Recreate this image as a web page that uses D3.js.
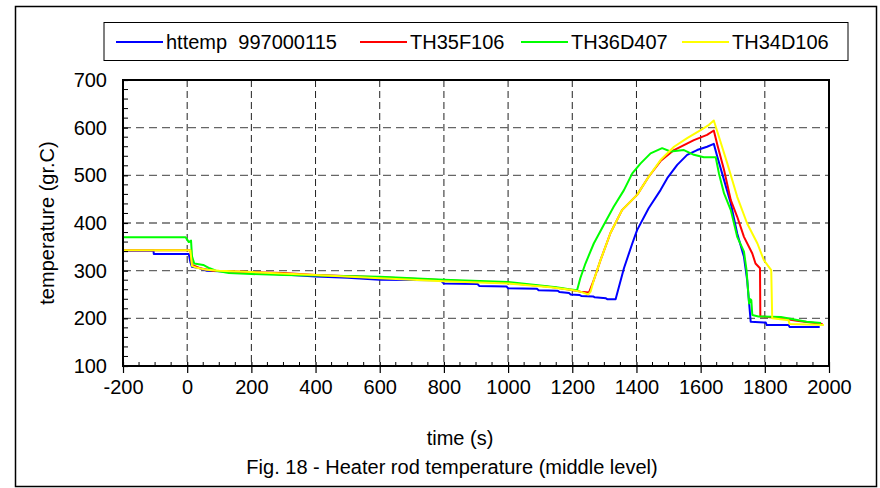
<!DOCTYPE html>
<html><head><meta charset="utf-8">
<script src="https://cdn.jsdelivr.net/npm/d3@7"></script>
<style>body{margin:0;background:#fff}svg{display:block}text{font-family:"Liberation Sans",Arial,sans-serif}</style>
</head><body><svg id="c" width="880" height="488"></svg>
<script>
const seriesNames = ["httemp  997000115", "TH35F106", "TH36D407", "TH34D106"];
const seriesColors = ["#0000ff", "#ff0000", "#00ff00", "#ffff00"];
const xTicks = [-200,0,200,400,600,800,1000,1200,1400,1600,1800,2000];
const yTicks = [100,200,300,400,500,600,700];

const blue = [[-200,342],[-105,342],[-104,335],[5,335],[10,318],[15,308],[40,305],[60,300],[100,299],[200,296],[300,292],[400,288],[500,285],[600,281],[790,280],[800,273],[905,272],[910,268],[995,267],[1000,263],[1090,262],[1095,259],[1155,258],[1160,255],[1190,253],[1195,250],[1222,249],[1228,247],[1265,246],[1270,244],[1305,242],[1310,240],[1335,240],[1361,305],[1387,357],[1402,385],[1438,431],[1475,469],[1496,494],[1527,522],[1558,543],[1589,553],[1620,560],[1641,566],[1652,539],[1673,490],[1694,441],[1714,378],[1735,329],[1745,280],[1756,193],[1803,191],[1806,186],[1874,186],[1877,182],[1971,182]];
const red = [[-200,343],[10,343],[15,312],[40,305],[80,300],[200,297],[300,295],[400,291],[600,286],[800,280],[1000,274],[1130,266],[1194,260],[1225,256],[1252,254],[1267,280],[1288,322],[1319,379],[1355,427],[1402,459],[1438,497],[1475,530],[1517,553],[1579,574],[1620,585],[1641,594],[1652,564],[1673,511],[1694,448],[1714,413],[1735,371],[1761,336],[1771,315],[1785,305],[1786,204],[1850,200],[1900,195],[1980,188]];
const green = [[-200,370],[-5,370],[0,365],[5,360],[12,363],[15,330],[22,315],[50,312],[70,305],[90,300],[130,295],[200,293],[300,291],[400,290],[600,287],[800,281],[1000,276],[1150,265],[1190,261],[1215,259],[1225,284],[1241,315],[1267,357],[1298,396],[1329,434],[1361,469],[1387,504],[1413,525],[1444,546],[1480,557],[1506,550],[1548,553],[1579,543],[1610,538],[1647,538],[1657,504],[1673,462],[1694,427],[1714,371],[1735,340],[1743,301],[1751,231],[1755,240],[1758,238],[1761,207],[1780,204],[1850,203],[1930,193],[1975,190]];
const yellow = [[-200,343],[10,343],[15,310],[30,306],[60,302],[100,300],[200,297],[400,291],[602,284],[798,278],[1000,273],[1132,265],[1194,260],[1225,256],[1250,250],[1257,256],[1267,280],[1288,322],[1319,379],[1355,427],[1402,459],[1438,497],[1475,532],[1517,560],[1558,578],[1600,595],[1626,606],[1641,615],[1657,581],[1683,525],[1714,455],[1745,399],[1777,357],[1797,322],[1820,301],[1823,200],[1874,196],[1877,188],[1984,186]];
const allSeries = [blue, red, green, yellow];

const svg = d3.select("#c");
const L = 123, R = 829, T = 80, B = 366;
const x = d3.scaleLinear().domain([-200,2000]).range([L,R]);
const y = d3.scaleLinear().domain([100,700]).range([B,T]);
const fmt = d => String(d);

// outer frame
svg.append("rect").attr("x",15.5).attr("y",6.5).attr("width",861).attr("height",480)
  .attr("fill","none").attr("stroke","#000").attr("stroke-width",1.5);

// grid
const g = svg.append("g");
g.selectAll(".vg").data(xTicks.filter(d=>d>-200 && d<2000)).join("line")
  .attr("x1",d=>x(d)).attr("x2",d=>x(d)).attr("y1",T).attr("y2",B)
  .attr("stroke","#222").attr("stroke-width",1).attr("stroke-dasharray","7,4");
g.selectAll(".hg").data(yTicks.filter(d=>d>100 && d<700)).join("line")
  .attr("x1",L).attr("x2",R).attr("y1",d=>y(d)).attr("y2",d=>y(d))
  .attr("stroke","#666").attr("stroke-width",1.3).attr("stroke-dasharray","8,5");

// series
const line = d3.line().x(d=>x(d[0])).y(d=>y(d[1]));
allSeries.forEach((s,i)=>{
  svg.append("path").datum(s).attr("d",line).attr("fill","none")
    .attr("stroke",seriesColors[i]).attr("stroke-width",2).attr("stroke-linejoin","round");
});

// plot frame
svg.append("rect").attr("x",L).attr("y",T).attr("width",R-L).attr("height",B-T)
  .attr("fill","none").attr("stroke","#000").attr("stroke-width",2);

// axes
const xAx = svg.append("g").attr("transform",`translate(0,${B})`)
  .call(d3.axisBottom(x).tickValues(xTicks).tickSize(7).tickFormat(fmt));
xAx.select(".domain").remove();
xAx.selectAll(".tick line").attr("y1",-4).attr("stroke","#000").attr("stroke-width",1.2);
xAx.selectAll(".tick text").attr("y",14).attr("font-size",20).attr("fill","#000").attr("font-family","Liberation Sans, Arial, sans-serif");
const xMinor = d3.range(-150,2000,50).filter(d=>d%200!==0);
svg.append("g").selectAll("line").data(xMinor).join("line")
  .attr("x1",d=>x(d)).attr("x2",d=>x(d)).attr("y1",B-4).attr("y2",B).attr("stroke","#000").attr("stroke-width",1);

const yAx = svg.append("g").attr("transform",`translate(${L},0)`)
  .call(d3.axisLeft(y).tickValues(yTicks).tickSize(6).tickFormat(fmt));
yAx.select(".domain").remove();
yAx.selectAll(".tick line").attr("x2",5).attr("stroke","#000").attr("stroke-width",1.2);
yAx.selectAll(".tick text").attr("x",-16).attr("font-size",20).attr("fill","#000").attr("font-family","Liberation Sans, Arial, sans-serif");
const yMinor = d3.range(120,700,20).filter(d=>d%100!==0);
svg.append("g").selectAll("line").data(yMinor).join("line")
  .attr("x1",L).attr("x2",L+5).attr("y1",d=>y(d)).attr("y2",d=>y(d)).attr("stroke","#000").attr("stroke-width",1);

// titles
svg.append("text").attr("x",460).attr("y",445).attr("text-anchor","middle").attr("font-size",20).text("time (s)");
svg.append("text").attr("x",452).attr("y",474).attr("text-anchor","middle").attr("font-size",20).text("Fig. 18 - Heater rod temperature (middle level)");
svg.append("text").attr("transform","translate(54,223) rotate(-90)").attr("text-anchor","middle").attr("font-size",20).text("temperature (gr.C)");

// legend
svg.append("rect").attr("x",104).attr("y",22.5).attr("width",744).attr("height",38)
  .attr("fill","#fff").attr("stroke","#000").attr("stroke-width",1);
const legX = [116, 360, 521, 682];
seriesNames.forEach((n,i)=>{
  svg.append("line").attr("x1",legX[i]).attr("x2",legX[i]+47).attr("y1",42).attr("y2",42)
    .attr("stroke",seriesColors[i]).attr("stroke-width",2);
  svg.append("text").attr("x",legX[i]+50).attr("y",49).attr("font-size",20).attr("xml:space","preserve").text(n);
});
</script></body></html>
